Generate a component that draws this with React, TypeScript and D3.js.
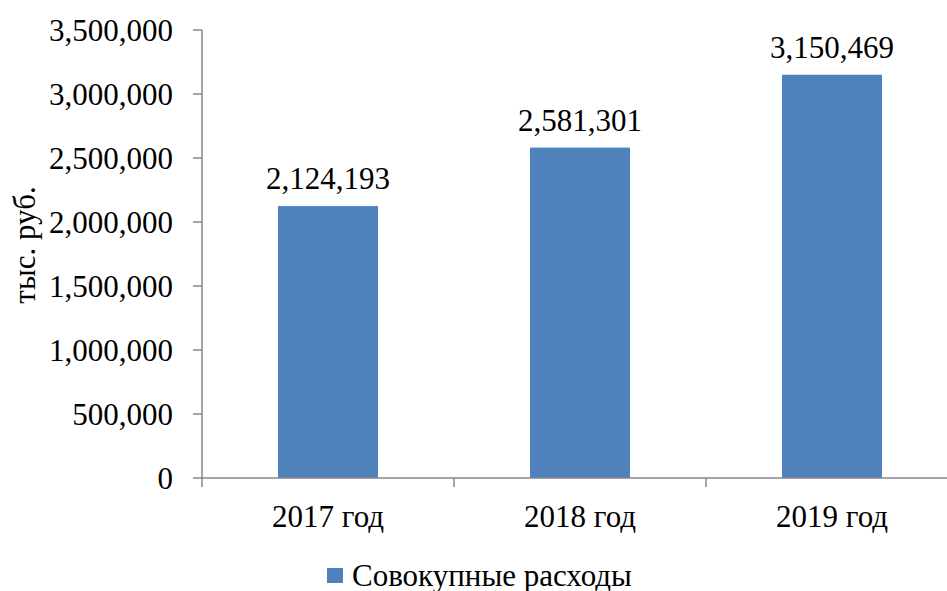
import React from "react";
import * as d3 from "d3";

const categories = ["2017 год", "2018 год", "2019 год"];
const values = [2124193, 2581301, 3150469];
const yTicks = [0, 500000, 1000000, 1500000, 2000000, 2500000, 3000000, 3500000];
const seriesName = "Совокупные расходы";
const yTitle = "тыс. руб.";

const W = 947;
const H = 591;
const FONT = "'Times New Roman', Times, 'Liberation Serif', serif";
const AXIS = "#868686";
const BAR = "#4F81BD";
const ts: React.CSSProperties = { fontFamily: FONT, fontSize: 31 };

export default function App() {
  const left = 202;
  const right = 958;
  const top = 30;
  const bottom = 478;
  const x = d3.scaleBand<string>().domain(categories).range([left, right]).paddingInner(0.603).paddingOuter(0.3015);
  const y = d3.scaleLinear().domain([0, 3500000]).range([bottom, top]);
  const fmt = d3.format(",");
  const step = x.step();
  const catTicks = [left, ...categories.map((c) => (x(c) as number) + x.bandwidth() / 2 + step / 2)];

  return (
    <svg width={W} height={H} style={{ position: "absolute", left: 0, top: 0, background: "#fff" }}>
      {categories.map((c, i) => (
        <rect key={c} x={x(c)} y={y(values[i])} width={x.bandwidth()} height={bottom - y(values[i])} fill={BAR} />
      ))}
      {categories.map((c, i) => (
        <text key={"v" + c} x={(x(c) as number) + x.bandwidth() / 2} y={y(values[i]) - 17} textAnchor="middle" style={ts} fill="#000">
          {fmt(values[i])}
        </text>
      ))}
      <line x1={left} x2={left} y1={top} y2={bottom} stroke={AXIS} strokeWidth={1.5} />
      {yTicks.map((t) => (
        <g key={t}>
          <line x1={left - 9} x2={left} y1={y(t)} y2={y(t)} stroke={AXIS} strokeWidth={1.5} />
          <text x={173} y={y(t) + 11} textAnchor="end" style={ts} fill="#000">
            {fmt(t)}
          </text>
        </g>
      ))}
      <line x1={left} x2={W} y1={bottom} y2={bottom} stroke={AXIS} strokeWidth={1.5} />
      {catTicks.map((t, i) => (
        <line key={"xt" + i} x1={t} x2={t} y1={bottom} y2={bottom + 9} stroke={AXIS} strokeWidth={1.5} />
      ))}
      {categories.map((c) => (
        <text key={"c" + c} x={(x(c) as number) + x.bandwidth() / 2} y={527} textAnchor="middle" style={ts} fill="#000">
          {c}
        </text>
      ))}
      <text transform={`translate(35,245) rotate(-90)`} textAnchor="middle" style={ts} fill="#000">
        {yTitle}
      </text>
      <rect x={327} y={568} width={16} height={15} fill={BAR} />
      <text x={352} y={586} style={ts} fill="#000">
        {seriesName}
      </text>
    </svg>
  );
}
